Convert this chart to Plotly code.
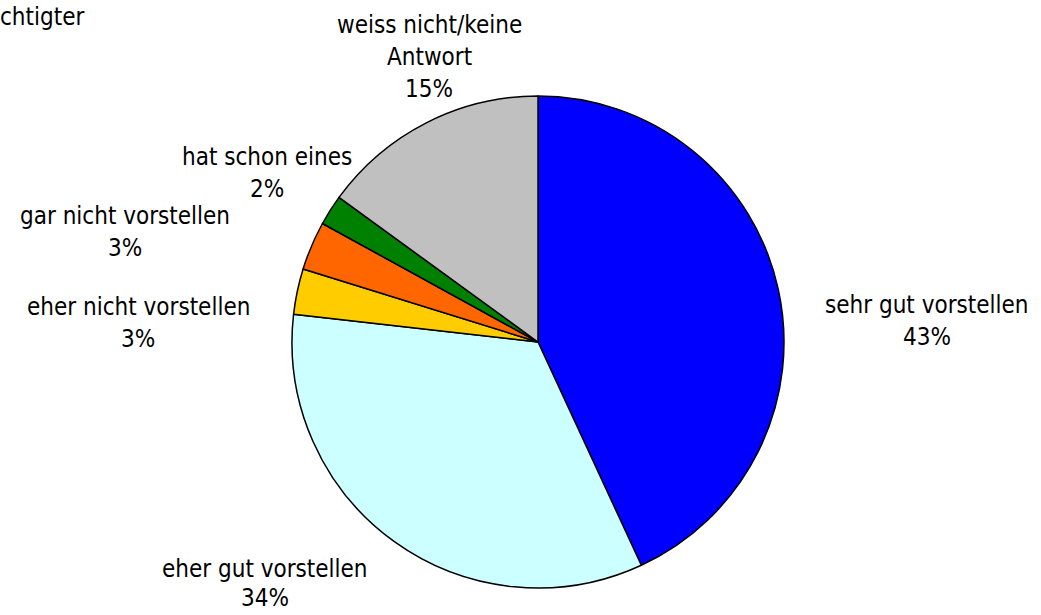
import plotly.graph_objects as go

categories = ["sehr gut vorstellen", "eher gut vorstellen", "eher nicht vorstellen",
              "gar nicht vorstellen", "hat schon eines", "weiss nicht/keine Antwort"]
values = [43.1, 33.7, 3.0, 3.2, 2.0, 15.0]
colors = ["#0000FF", "#CCFFFF", "#FFCC00", "#FF6600", "#008000", "#C0C0C0"]
corner_text = "chtigter"

W, H = 1041, 615
FONT = "DejaVu Sans Condensed, DejaVu Sans"
FS = 24
LINE = 32
# label layout: centre x and first-line y in pixels, plus line breaks
label_pos = [(927, 305), (265, 569), (138, 307), (125, 216), (267, 157), (429, 25)]
line_gap = [LINE, 29, LINE, LINE, LINE, LINE]
wrap = {"weiss nicht/keine Antwort": ["weiss nicht/keine", "Antwort"]}

fig = go.Figure(go.Pie(
    labels=categories, values=values, sort=False, direction="clockwise", rotation=0,
    marker=dict(colors=colors, line=dict(color="black", width=1.5)),
    textinfo="none", hoverinfo="label+percent", showlegend=False,
    domain=dict(x=[292 / W, 784 / W], y=[1 - 588 / H, 1 - 96 / H]),
))

total = sum(values)
annotations = []
for cat, v, (px, py), gap in zip(categories, values, label_pos, line_gap):
    lines = wrap.get(cat, [cat]) + [f"{round(v / total * 100)}%"]
    for i, line in enumerate(lines):
        annotations.append(dict(
            x=px / W, y=1 - (py + i * gap) / H, xref="paper", yref="paper",
            text=line, showarrow=False, xanchor="center", yanchor="middle",
            font=dict(family=FONT, size=FS, color="black"),
        ))
annotations.append(dict(
    x=-2 / W, y=1 - 17 / H, xref="paper", yref="paper", text=corner_text,
    showarrow=False, xanchor="left", yanchor="middle",
    font=dict(family=FONT, size=FS, color="black"),
))

fig.update_layout(
    width=W, height=H, margin=dict(l=0, r=0, t=0, b=0),
    paper_bgcolor="white", plot_bgcolor="white", annotations=annotations,
)
fig.write_html("out.html", config={"displayModeBar": False},
               post_script="document.body.style.margin='0';")
